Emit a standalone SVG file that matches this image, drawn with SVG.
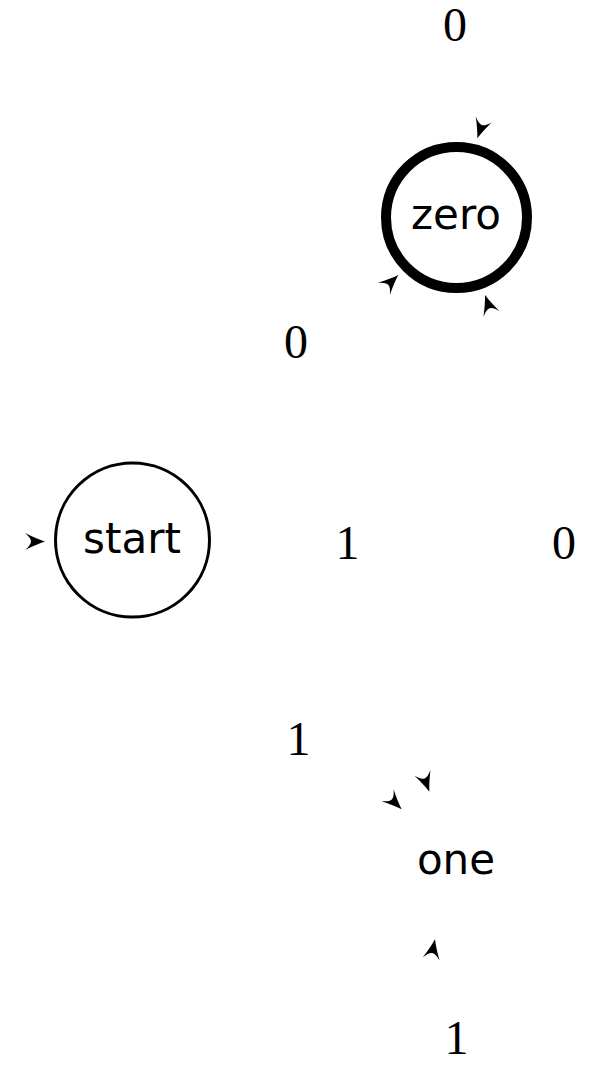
<svg xmlns="http://www.w3.org/2000/svg" width="589" height="1065" viewBox="0 0 589 1065">
<style>
.bg{fill:#fff}
.state{font-family:"DejaVu Sans",sans-serif;font-size:42px;fill:#000;text-anchor:middle}
.lbl{font-family:"Liberation Serif",serif;font-size:48px;fill:#000;text-anchor:middle}
.head{fill:#000;stroke:none}
</style>
<defs>
<path id="ah" class="head" d="M0,0 Q-8,-2.5 -20,-8.5 Q-14,-3.5 -14,0 Q-14,3.5 -20,8.5 Q-8,2.5 0,0 Z"/>
</defs>
<rect class="bg" x="0" y="0" width="589" height="1065"/>
<g id="connectors">
<use href="#ah" transform="translate(45,541.5)"/>
<use href="#ah" transform="translate(477.3,138.3) rotate(109)"/>
<use href="#ah" transform="translate(398.3,275) rotate(-44)"/>
<use href="#ah" transform="translate(485,295) rotate(-109)"/>
<use href="#ah" transform="translate(401.7,809.3) rotate(45)"/>
<use href="#ah" transform="translate(429.3,791.7) rotate(70)"/>
<use href="#ah" transform="translate(435,939.3) rotate(-79)"/>
<text class="lbl" x="455" y="41">0</text>
<text class="lbl" x="296" y="358">0</text>
<text class="lbl" x="347.5" y="559">1</text>
<text class="lbl" x="564" y="559">0</text>
<text class="lbl" x="298.5" y="755">1</text>
<text class="lbl" x="456.5" y="1054">1</text>
</g>
<g id="node-start">
<circle cx="132.5" cy="540" r="77" fill="none" stroke="#000" stroke-width="3"/>
<text class="state" x="132" y="553">start</text>
</g>
<g id="node-zero">
<circle cx="456.5" cy="217.5" r="70.5" fill="none" stroke="#000" stroke-width="10"/>
<text class="state" x="456" y="228.5">zero</text>
</g>
<g id="node-one">
<text class="state" x="456" y="873.5">one</text>
</g>
</svg>
